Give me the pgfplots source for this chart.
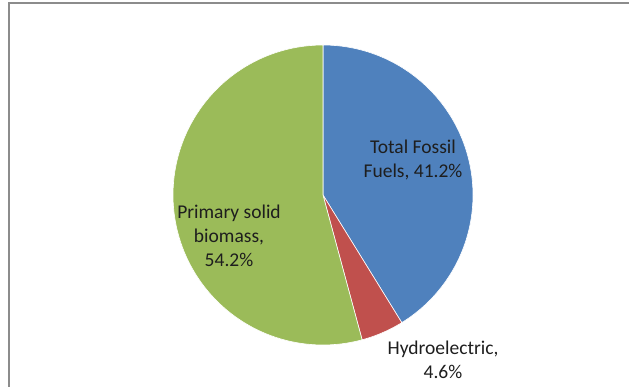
\documentclass[border=0pt]{standalone}
\usepackage{pgfplots}
\pgfplotsset{compat=1.18}
\usepackage{fontspec}
\setmainfont{Carlito}
\definecolor{cBlue}{HTML}{4F81BD}
\definecolor{cRed}{HTML}{C0504D}
\definecolor{cGreen}{HTML}{9BBB59}
\definecolor{cText}{HTML}{1E1E1E}
\begin{document}
\begin{tikzpicture}
\begin{axis}[
  name=ax,
  scale only axis, width=629pt, height=387pt,
  xmin=0, xmax=629, ymin=0, ymax=387,
  axis lines=none, clip=false, ticks=none,
  every axis plot/.append style={draw=white, line width=0.6pt},
]
% shares (percent): Total Fossil Fuels 41.2, Hydroelectric 4.6, Primary solid biomass 54.2
\addplot[fill=cBlue, domain={90}:{90-3.6*41.2}, samples=80, variable=\t]
  ({323+150*cos(\t)}, {192+150*sin(\t)}) -- (axis cs:323,192) -- cycle;
\addplot[fill=cRed, domain={90-3.6*41.2}:{90-3.6*(41.2+4.6)}, samples=20, variable=\t]
  ({323+150*cos(\t)}, {192+150*sin(\t)}) -- (axis cs:323,192) -- cycle;
\addplot[fill=cGreen, domain={90-3.6*(41.2+4.6)}:{90-3.6*(41.2+4.6+54.2)}, samples=100, variable=\t]
  ({323+150*cos(\t)}, {192+150*sin(\t)}) -- (axis cs:323,192) -- cycle;
\draw[gray!90, line width=1.2pt] (axis cs:9,0) -- (axis cs:9,384) -- (axis cs:629,384);
\node[align=center, text=cText, font=\fontsize{19.5}{24}\selectfont] at (axis cs:413,227) {Total Fossil\\Fuels, 41.2\%};
\node[align=center, text=cText, font=\fontsize{19.5}{24}\selectfont] at (axis cs:229,151) {Primary solid\\biomass,\\54.2\%};
\node[align=center, text=cText, font=\fontsize{19.5}{24}\selectfont] at (axis cs:443,27) {Hydroelectric,\\4.6\%};
\end{axis}
\pgfresetboundingbox
\useasboundingbox (ax.south west) rectangle (ax.north east);
\end{tikzpicture}
\end{document}
